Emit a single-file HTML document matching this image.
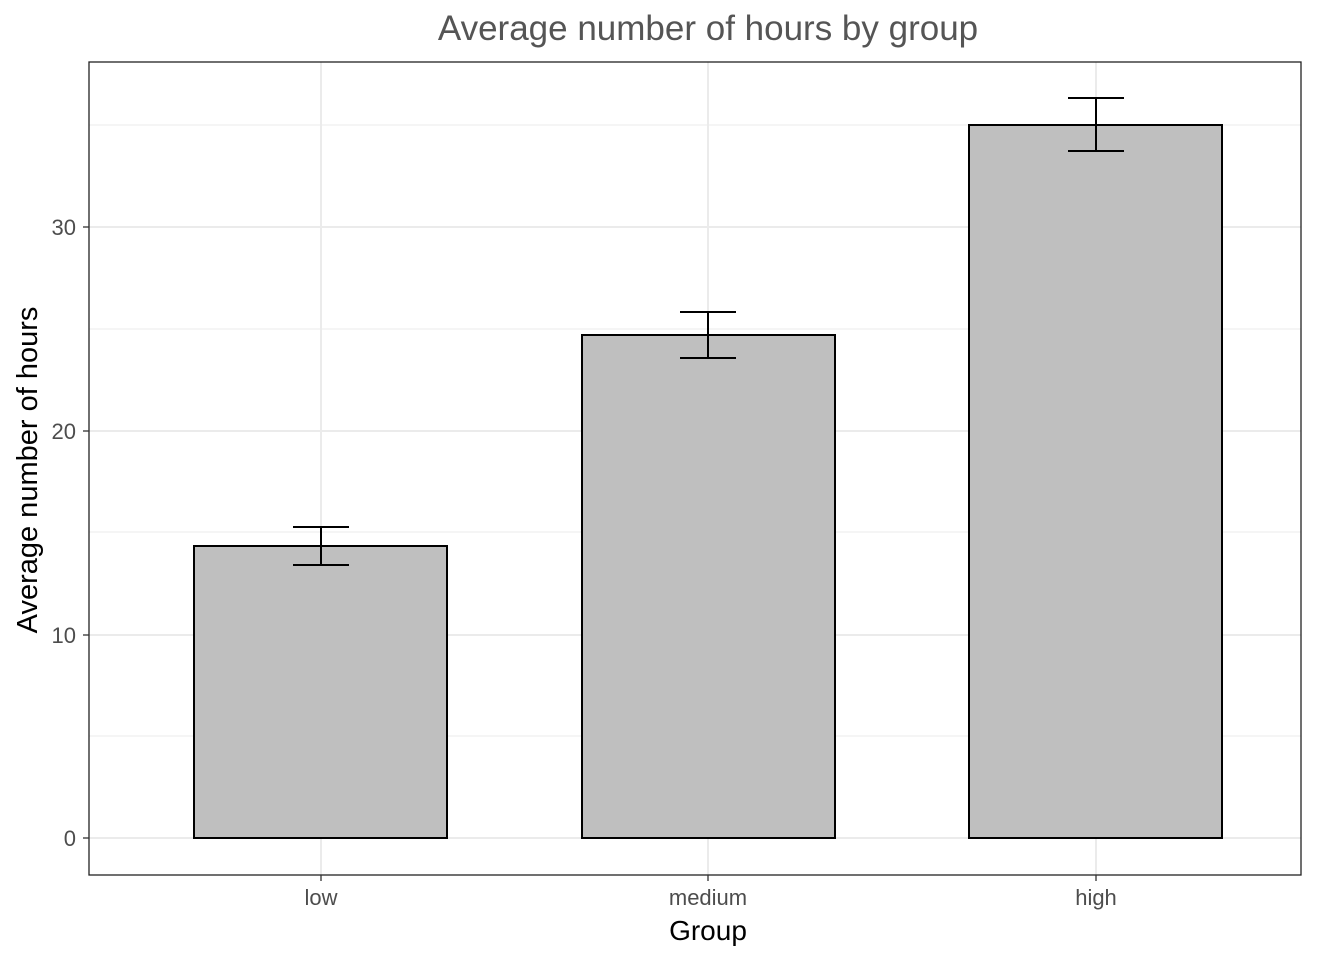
<!DOCTYPE html>
<html><head><style>body{margin:0;background:#fff}</style></head><body>
<svg width="1344" height="960" xmlns="http://www.w3.org/2000/svg" font-family="Liberation Sans, sans-serif">
<rect width="1344" height="960" fill="#fff"/>
<g stroke="#ebebeb" stroke-width="1">
<line x1="89" x2="1301" y1="736" y2="736"/><line x1="89" x2="1301" y1="532" y2="532"/><line x1="89" x2="1301" y1="329" y2="329"/><line x1="89" x2="1301" y1="125" y2="125"/>
</g>
<g stroke="#ebebeb" stroke-width="2">
<line x1="89" x2="1301" y1="838" y2="838"/><line x1="89" x2="1301" y1="635" y2="635"/><line x1="89" x2="1301" y1="431" y2="431"/><line x1="89" x2="1301" y1="227" y2="227"/>
<line x1="321" x2="321" y1="62" y2="875"/><line x1="708" x2="708" y1="62" y2="875"/><line x1="1096" x2="1096" y1="62" y2="875"/>
</g>
<g fill="#bfbfbf" stroke="#000" stroke-width="2">
<rect x="194" y="546" width="253" height="292"/>
<rect x="582" y="335" width="253" height="503"/>
<rect x="969" y="125" width="253" height="713"/>
</g>
<g stroke="#000" stroke-width="2" fill="none">
<path d="M293 527H349M321 527V565M293 565H349"/>
<path d="M680 312H736M708 312V358M680 358H736"/>
<path d="M1068 98H1124M1096 98V151M1068 151H1124"/>
</g>
<rect x="89" y="62" width="1212" height="813" fill="none" stroke="#222" stroke-width="1.3"/>
<g stroke="#333" stroke-width="1.3">
<line x1="83" x2="89" y1="838" y2="838"/><line x1="83" x2="89" y1="635" y2="635"/><line x1="83" x2="89" y1="431" y2="431"/><line x1="83" x2="89" y1="227" y2="227"/>
<line x1="321" x2="321" y1="875" y2="881"/><line x1="708" x2="708" y1="875" y2="881"/><line x1="1096" x2="1096" y1="875" y2="881"/>
</g>
<g fill="#4d4d4d" font-size="22" text-anchor="end">
<text x="76" y="846">0</text><text x="76" y="643">10</text><text x="76" y="439">20</text><text x="76" y="235">30</text>
</g>
<g fill="#4d4d4d" font-size="22" text-anchor="middle">
<text x="321" y="905">low</text><text x="708" y="905">medium</text><text x="1096" y="905">high</text>
</g>
<text x="708" y="940" font-size="28" text-anchor="middle">Group</text>
<text transform="translate(37,470) rotate(-90)" font-size="29" text-anchor="middle">Average number of hours</text>
<text x="708" y="40" font-size="35" fill="#555" text-anchor="middle">Average number of hours by group</text>
</svg>
</body></html>
